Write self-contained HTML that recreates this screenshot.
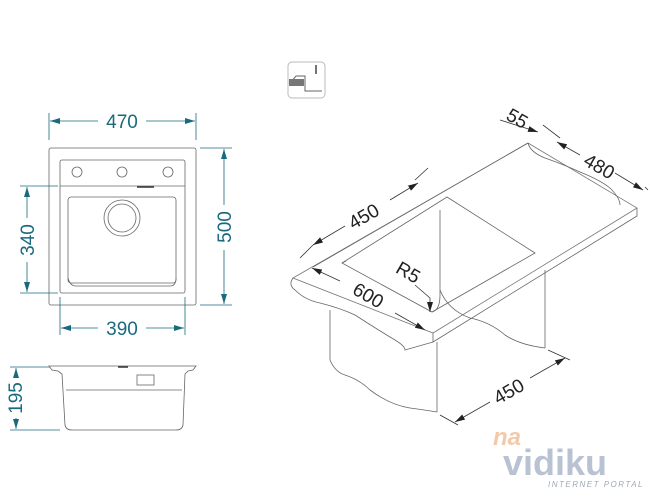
<!DOCTYPE html>
<html><head><style>
html,body{margin:0;padding:0;background:#fff;}
svg{display:block}
text{font-family:"Liberation Sans",sans-serif;}
</style></head><body>
<svg width="650" height="500" viewBox="0 0 650 500" xmlns="http://www.w3.org/2000/svg">
<defs>
<marker id="a" viewBox="0 0 10 6" refX="10" refY="3" markerWidth="10" markerHeight="6" orient="auto-start-reverse" markerUnits="userSpaceOnUse"><path d="M0,0L10,3L0,6z" fill="#1a6a7e"/></marker>
<marker id="k" viewBox="0 0 10 6" refX="10" refY="3" markerWidth="10" markerHeight="6" orient="auto-start-reverse" markerUnits="userSpaceOnUse"><path d="M0,0L10,3L0,6z" fill="#222"/></marker>
</defs>
<!-- icon -->
<g stroke="#bbb" fill="none">
<rect x="288" y="62" width="37" height="36" rx="4"/>
<path d="M291,82 L296,76 L305,76 L305,91 L322,91" stroke="#666"/>
<rect x="289" y="79" width="15" height="7" fill="#777" stroke="none"/>
<line x1="316" y1="65" x2="316" y2="74" stroke="#444" stroke-width="1.5"/>
</g>
<!-- top view -->
<g stroke="#666" fill="none" stroke-width="0.8">
<rect x="49" y="148" width="147" height="157" rx="2"/>
<rect x="60" y="160" width="125" height="133" rx="2"/>
<line x1="60" y1="186" x2="185" y2="186"/>
<rect x="68" y="197" width="108" height="86" rx="3"/>
<path d="M68,278 Q70,286 76,286 L170,286 Q176,286 176,278"/>
<circle cx="77" cy="172" r="5"/><circle cx="122" cy="172" r="5"/><circle cx="168" cy="172" r="5"/>
<circle cx="122" cy="218" r="18"/><circle cx="122" cy="218" r="14"/>
<line x1="137" y1="187" x2="154" y2="187" stroke="#333" stroke-width="1.5"/>
</g>
<g stroke="#1a6a7e" fill="none" stroke-width="0.8">
<line x1="49" y1="113" x2="49" y2="140"/><line x1="196" y1="113" x2="196" y2="140"/>
<line x1="50" y1="121" x2="98" y2="121" marker-start="url(#a)"/><line x1="146" y1="121" x2="195" y2="121" marker-end="url(#a)"/>
<line x1="200" y1="148" x2="232" y2="148"/><line x1="200" y1="305" x2="232" y2="305"/>
<line x1="224" y1="149" x2="224" y2="205" marker-start="url(#a)"/><line x1="224" y1="250" x2="224" y2="304" marker-end="url(#a)"/>
<line x1="20" y1="186" x2="58" y2="186"/><line x1="20" y1="293" x2="58" y2="293"/>
<line x1="27" y1="187" x2="27" y2="218" marker-start="url(#a)"/><line x1="27" y1="262" x2="27" y2="292" marker-end="url(#a)"/>
<line x1="60" y1="297" x2="60" y2="335"/><line x1="185" y1="297" x2="185" y2="335"/>
<line x1="61" y1="328" x2="98" y2="328" marker-start="url(#a)"/><line x1="146" y1="328" x2="184" y2="328" marker-end="url(#a)"/>
<line x1="10" y1="367" x2="50" y2="367"/><line x1="10" y1="430" x2="60" y2="430"/>
<line x1="16" y1="368" x2="16" y2="378" marker-start="url(#a)"/><line x1="16" y1="418" x2="16" y2="429" marker-end="url(#a)"/>
</g>
<g fill="#1a6a7e" font-size="19">
<text x="122" y="128" text-anchor="middle">470</text>
<text x="122" y="335" text-anchor="middle">390</text>
<text transform="translate(231,227) rotate(-90)" text-anchor="middle">500</text>
<text transform="translate(34,240) rotate(-90)" text-anchor="middle">340</text>
<text transform="translate(22,398) rotate(-90)" text-anchor="middle">195</text>
</g>
<!-- side view -->
<g stroke="#666" fill="none" stroke-width="0.8">
<path d="M49,366 L196,366 L193,370 L188,371 L185,374 L183,425 Q182,430 176,430 L72,430 Q66,430 65,425 L62,374 L58,371 L52,370 Z"/>
<line x1="66" y1="390" x2="182" y2="390"/>
<rect x="137" y="375" width="17" height="10"/>
<line x1="118" y1="367" x2="128" y2="367" stroke="#333" stroke-width="1.5"/>
</g>
<!-- iso view -->
<g stroke="#666" fill="none" stroke-width="0.8">
<path d="M293,278 L528,143 L637,208 L433,333 Z" stroke="#777"/>
<path d="M313,267 L528,143"/>
<path d="M342,263 L447,197 L535,253 L432,312 Z"/>
<path d="M342,263 L346,261"/>
<line x1="440" y1="210" x2="440" y2="295"/>
<path d="M440,295 Q440,310 432,312"/>
<path d="M637,208 L637,216 L433,342 L433,333"/>
<path d="M293,278 Q288,285 295,290 Q305,300 320,303 Q340,308 355,315 Q375,328 395,340 Q405,346 405,350 L433,342"/>
<line x1="330" y1="310" x2="330" y2="360"/>
<path d="M330,360 Q335,372 345,375 Q360,380 370,390 Q390,405 410,408 Q425,410 437,412"/>
<line x1="437" y1="342" x2="437" y2="412"/>
<line x1="545" y1="270" x2="545" y2="348"/>
<path d="M440,290 Q448,310 470,318 Q490,322 505,335 Q520,345 545,348"/>
<path d="M528,143 Q530,152 545,158 Q565,165 580,172 Q600,180 610,188 Q620,198 620,205"/>
</g>
<g stroke="#333" fill="none" stroke-width="0.8">
<line x1="300" y1="258" x2="313" y2="245"/><line x1="415" y1="180" x2="428" y2="168"/>
<line x1="313" y1="245" x2="345" y2="226" marker-start="url(#k)"/><line x1="390" y1="200" x2="418" y2="183" marker-end="url(#k)"/>
<line x1="312" y1="268" x2="340" y2="281" marker-start="url(#k)"/><line x1="395" y1="313" x2="425" y2="330" marker-end="url(#k)"/>
<line x1="500" y1="120" x2="538" y2="132" marker-end="url(#k)"/>
<line x1="557" y1="142" x2="580" y2="155" marker-start="url(#k)"/><line x1="615" y1="173" x2="643" y2="190" marker-end="url(#k)"/>
<line x1="543" y1="125" x2="560" y2="138"/><line x1="645" y1="187" x2="648" y2="190"/>
<line x1="415" y1="285" x2="430" y2="298"/><line x1="430" y1="298" x2="430" y2="312" marker-end="url(#k)"/>
<line x1="455" y1="422" x2="490" y2="402" marker-start="url(#k)"/><line x1="530" y1="378" x2="565" y2="358" marker-end="url(#k)"/>
<line x1="440" y1="415" x2="458" y2="425"/><line x1="548" y1="350" x2="570" y2="360"/>
</g>
<g fill="#222" font-size="19">
<text transform="translate(367,222) rotate(-30)" text-anchor="middle">450</text>
<text transform="translate(365,301) rotate(30)" text-anchor="middle">600</text>
<text transform="translate(405,278) rotate(30)" text-anchor="middle">R5</text>
<text transform="translate(514,124) rotate(30)" text-anchor="middle">55</text>
<text transform="translate(596,172) rotate(30)" text-anchor="middle">480</text>
<text transform="translate(512,397) rotate(-30)" text-anchor="middle">450</text>
</g>
<!-- watermark -->
<text x="493" y="445" font-size="24" font-style="italic" font-weight="bold" fill="#f3c9ab">na</text>
<text x="503" y="475" font-size="36" font-weight="bold" fill="#b8c2d2">vidiku</text>
<text x="548" y="487" font-size="8" font-style="italic" fill="#a0a8b8" letter-spacing="1.5">INTERNET PORTAL</text>
</svg>
</body></html>
